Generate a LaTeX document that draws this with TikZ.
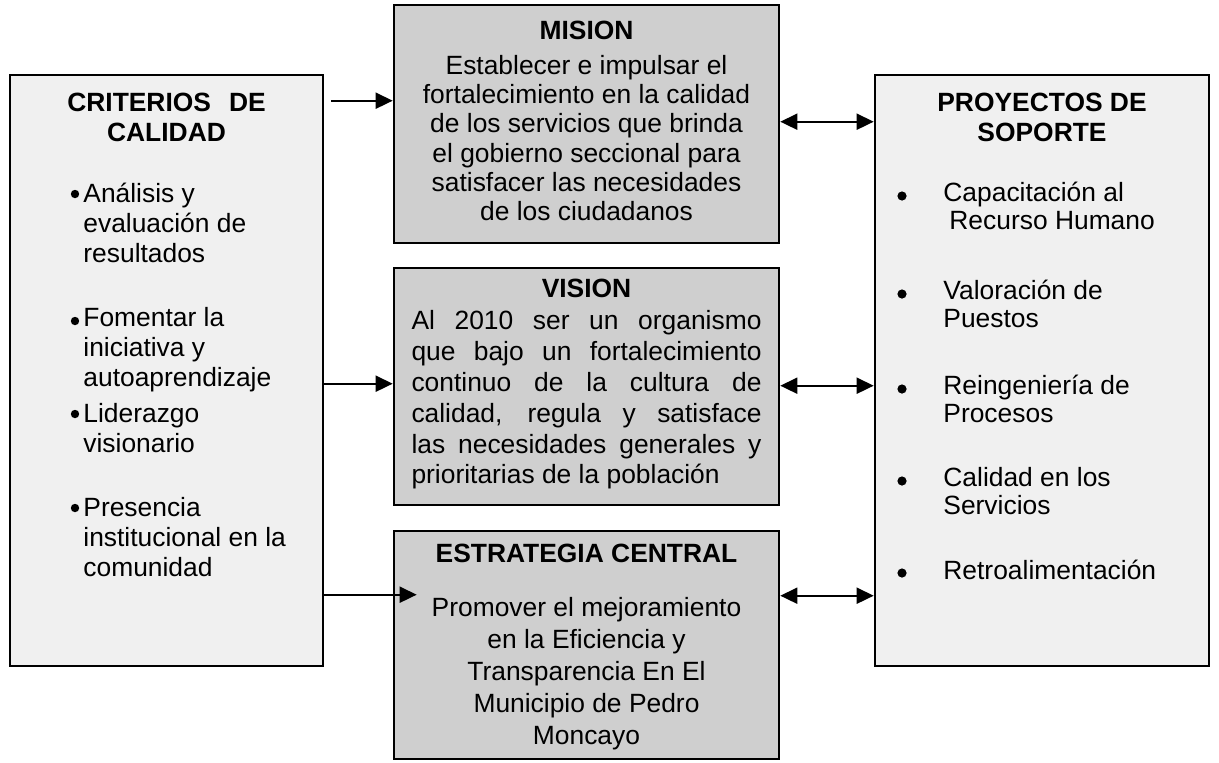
\documentclass[tikz,border=0pt]{standalone}
\usepackage{fontspec}
\setmainfont{Liberation Sans}
\usetikzlibrary{arrows.meta, positioning, calc}
\tikzset{
  side/.style = {draw=black, line width=1.3pt, fill=gray!12, inner sep=0pt},
  core/.style = {draw=black, line width=1.3pt, fill=gray!38, inner sep=0pt},
  head/.style = {font=\fontsize{13.2}{15}\selectfont\bfseries, align=center,
                 inner sep=0pt},
  body/.style = {font=\fontsize{13.2}{14.6}\selectfont, align=center,
                 inner sep=0pt},
  item/.style = {font=\fontsize{13.2}{15}\selectfont, align=left,
                 inner sep=0pt, anchor=west},
  flow/.style = {-{Triangle[length=8.5pt, width=8pt]}, line width=0.9pt},
  link/.style = {{Triangle[length=8.5pt, width=8pt]}-{Triangle[length=8.5pt, width=8pt]},
                 line width=0.9pt}
}

\begin{document}
\begin{tikzpicture}[x=0.5pt, y=-0.5pt]
\useasboundingbox (0,0) rectangle (1219,762);

% ---- Boxes ----
\node[side, minimum width=156.5pt, minimum height=295.5pt] (crit) at (166.5,370.5) {};
\node[side, minimum width=167pt,   minimum height=295.5pt] (proy) at (1042,370.5) {};
\node[core, minimum width=192.5pt, minimum height=119pt]   (mision) at (586.5,124) {};
\node[core, minimum width=192.5pt, minimum height=118.5pt] (vision) at (586.5,386.5) {};
\node[core, minimum width=192.5pt, minimum height=114pt]   (estr) at (586.5,645) {};

% ---- Criterios de calidad ----
\node[head] (critT) at (166.5,117) {CRITERIOS\hspace{9pt}DE\\CALIDAD};
\foreach \ty/\by/\txt [count=\i] in {%
  223/194/{Análisis y\\evaluación de\\resultados},
  350/321/{Fomentar la\\iniciativa y\\autoaprendizaje},
  428/414/{Liderazgo\\visionario},
  537/508/{Presencia\\institucional en la\\comunidad}} {
  \fill (75,\by) circle[radius=2.1pt];
  \node[item] (critI\i) at (83,\ty) {\txt};
}

% ---- Mision / Vision / Estrategia ----
\node[head] (misionT) at (586.5,30) {MISION};
\node[body] (misionB) at (586.5,138) {Establecer e impulsar el\\fortalecimiento en la calidad\\
  de los servicios que brinda\\el gobierno seccional para\\satisfacer las necesidades\\
  de los ciudadanos};

\node[head] (visionT) at (586.5,288) {VISION};
\node[body, align=justify, text width=175pt,
      font=\fontsize{13.2}{15.4}\selectfont] (visionB) at (586.5,400)
  {Al 2010 ser un organismo\linebreak que bajo un fortalecimiento\linebreak
   continuo de la cultura de\linebreak calidad, regula y satisface\linebreak
   las necesidades generales y\linebreak prioritarias de la población};

\node[head] (estrT) at (586.5,553) {ESTRATEGIA CENTRAL};
\node[body, font=\fontsize{13.2}{16}\selectfont] (estrB) at (586.5,674)
  {Promover el mejoramiento\\en la Eficiencia y\\Transparencia En El\\
   Municipio de Pedro\\Moncayo};

% ---- Proyectos de soporte ----
\node[head] (proyT) at (1042,117) {PROYECTOS DE\\SOPORTE};
\foreach \ty/\by/\txt [count=\i] in {%
  206/196/{Capacitación al\\\hspace*{3pt}Recurso Humano},
  304/294/{Valoración de\\Puestos},
  399/389/{Reingeniería de\\Procesos},
  491/481/{Calidad en los\\Servicios},
  570/573/{Retroalimentación}} {
  \fill (902,\by) circle[radius=2.3pt];
  \node[item, font=\fontsize{13.2}{14}\selectfont] (proyI\i) at (943,\ty) {\txt};
}

% ---- Connectors ----
\draw[flow] ([shift={(7,27)}]crit.north east) -- ([shift={(0,97)}]mision.north west);
\draw[flow] ([shift={(0,310)}]crit.north east) -- ([shift={(0,117)}]vision.north west);
\draw[flow] ([shift={(0,521)}]crit.north east) -- ([shift={(24,65)}]estr.north west);
\draw[link] ([shift={(0,118)}]mision.north east) -- ([shift={(0,48)}]proy.north west);
\draw[link] ([shift={(0,119)}]vision.north east) -- ([shift={(0,312)}]proy.north west);
\draw[link] ([shift={(0,66)}]estr.north east) -- ([shift={(0,522)}]proy.north west);
\end{tikzpicture}
\end{document}
